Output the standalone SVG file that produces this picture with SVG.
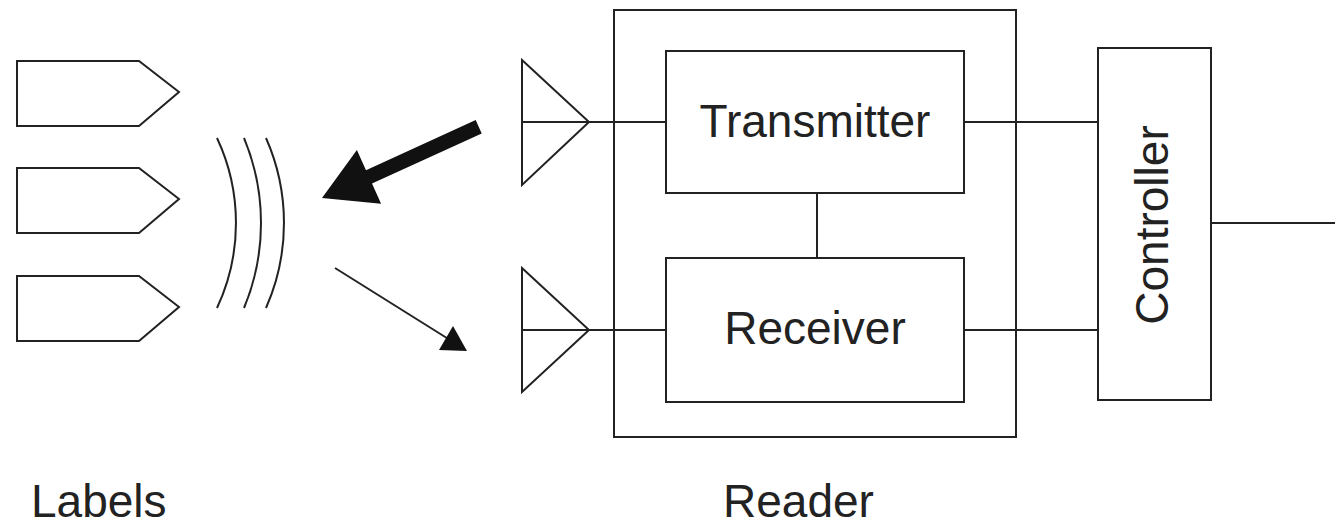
<svg xmlns="http://www.w3.org/2000/svg" width="1335" height="528" viewBox="0 0 1335 528">
<style>
.s{fill:none;stroke:#222;stroke-width:2}
.b{fill:#fff;stroke:#222;stroke-width:2}
.t{font-family:"Liberation Sans",Arial,sans-serif;font-size:46px;fill:#222}
</style>
<rect width="1335" height="528" fill="#fff"/>
<g id="tags">
<polygon class="b" points="17,61 139,61 179,92 139,126 17,126"/>
<polygon class="b" points="17,168 139,168 179,199 139,233 17,233"/>
<polygon class="b" points="17,276 139,276 179,307 139,341 17,341"/>
</g>
<g id="waves">
<path class="s" d="M217,138 A200,200 0 0 1 217,308"/>
<path class="s" d="M244,138 A221,221 0 0 1 244,308"/>
<path class="s" d="M266,138 A210,210 0 0 1 266,308"/>
</g>
<g id="reader">
<rect class="b" x="614" y="10" width="402" height="427"/>
</g>
<g id="antenna-tx">
<polygon class="s" points="522,60 589,122 522,185"/>
</g>
<g id="antenna-rx">
<polygon class="s" points="522,268 589,330 522,392"/>
</g>
<g id="connectors">
<line class="s" x1="522" y1="122" x2="666" y2="122"/>
<line class="s" x1="522" y1="330" x2="666" y2="330"/>
<line class="s" x1="964" y1="122" x2="1098" y2="122"/>
<line class="s" x1="964" y1="330" x2="1098" y2="330"/>
<line class="s" x1="817" y1="193" x2="817" y2="258"/>
<line class="s" x1="1211" y1="223" x2="1335" y2="223"/>
<polygon fill="#111" points="475.7,120 366,170.2 356.9,150 322,198 381.1,203.8 372,183.6 481.7,133.4"/>
<line x1="335" y1="268" x2="450" y2="340" stroke="#222" stroke-width="2"/>
<polygon fill="#111" points="467,351 453,326 439,350"/>
</g>
<g id="transmitter">
<rect class="b" x="666" y="51" width="298" height="142"/>
<text class="t" x="815" y="137" text-anchor="middle">Transmitter</text>
</g>
<g id="receiver">
<rect class="b" x="666" y="258" width="298" height="144"/>
<text class="t" x="815" y="344" text-anchor="middle">Receiver</text>
</g>
<g id="controller">
<rect class="b" x="1098" y="48" width="113" height="352"/>
<text class="t" transform="translate(1168,225) rotate(-90)" text-anchor="middle">Controller</text>
</g>
<text class="t" x="31" y="517">Labels</text>
<text class="t" x="723" y="517">Reader</text>
</svg>
